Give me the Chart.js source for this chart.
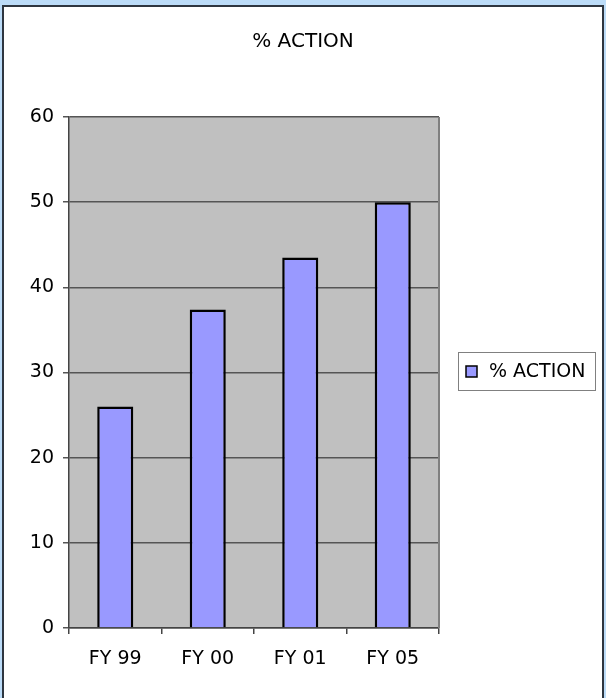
<!DOCTYPE html>
<html>
<head>
<meta charset="utf-8">
<script src="https://cdn.jsdelivr.net/npm/chart.js@4/dist/chart.umd.min.js"></script>
<style>
  html, body { margin: 0; padding: 0; }
  body { width: 606px; height: 698px; background: #BCDCF8; position: relative; overflow: hidden; }
  #frame { position: absolute; left: 2px; top: 5px; width: 598px; height: 700px; background: #fff; border: 2px solid #2E3640; }
  #wrap { position: absolute; left: 0; top: 0; width: 606px; height: 698px; }
</style>
</head>
<body>
<div id="frame"></div>
<div id="wrap"><canvas id="c" width="606" height="698"></canvas></div>
<script>
const categories = ['FY 99', 'FY 00', 'FY 01', 'FY 05'];
const seriesName = '% ACTION';
const chartTitle = '% ACTION';
const actionValues = [26, 37.4, 43.5, 50];
const yTicks = [0, 10, 20, 30, 40, 50, 60];

const FONT = 'DejaVu Sans';
const BAR_COLOR = '#9999FF';

const plotBg = {
  id: 'plotBg',
  beforeDraw(chart) {
    const { ctx, chartArea: a } = chart;
    ctx.save();
    ctx.fillStyle = '#C0C0C0';
    ctx.fillRect(a.left, a.top, a.right - a.left, a.bottom - a.top);
    ctx.restore();
  },
  afterDatasetsDraw(chart) {
    const { ctx, chartArea: a } = chart;
    ctx.save();
    ctx.strokeStyle = '#808080';
    ctx.lineWidth = 2;
    ctx.beginPath();
    ctx.moveTo(a.right, a.top);
    ctx.lineTo(a.right, a.bottom);
    ctx.stroke();
    ctx.restore();
  }
};

const titleAndLegend = {
  id: 'titleAndLegend',
  afterDraw(chart) {
    const { ctx } = chart;
    ctx.save();
    // title, centred across the whole chart
    ctx.fillStyle = '#000';
    ctx.font = '20px "' + FONT + '"';
    ctx.textAlign = 'center';
    ctx.textBaseline = 'middle';
    ctx.fillText(chartTitle, chart.width / 2, 42);
    // legend box
    ctx.strokeStyle = '#808080';
    ctx.lineWidth = 1;
    ctx.strokeRect(458.5, 352.5, 137, 38);
    ctx.fillStyle = BAR_COLOR;
    ctx.fillRect(466, 366, 11, 11);
    ctx.strokeStyle = '#000';
    ctx.lineWidth = 1.5;
    ctx.strokeRect(466, 366, 11, 11);
    ctx.fillStyle = '#000';
    ctx.font = '19px "' + FONT + '"';
    ctx.textAlign = 'left';
    ctx.fillText(chart.data.datasets[0].label, 489, 372);
    ctx.restore();
  }
};

new Chart(document.getElementById('c'), {
  type: 'bar',
  data: {
    labels: categories,
    datasets: [{
      label: seriesName,
      data: actionValues,
      backgroundColor: BAR_COLOR,
      borderColor: '#000',
      borderWidth: 2.5,
      barPercentage: 0.39,
      categoryPercentage: 1.0
    }]
  },
  options: {
    responsive: false,
    animation: false,
    devicePixelRatio: 1,
    layout: { padding: { left: 0, right: 167, top: 117, bottom: 0 } },
    plugins: {
      legend: { display: false },
      tooltip: { enabled: false },
      title: { display: false }
    },
    scales: {
      x: {
        afterFit(s) { s.height = 70; },
        grid: { drawOnChartArea: false, drawTicks: true, tickLength: 6, color: '#444', offset: true, lineWidth: 1.5 },
        border: { display: true, color: '#444', width: 1.5 },
        ticks: { color: '#000', font: { family: FONT, size: 19 }, padding: 14, maxRotation: 0 }
      },
      y: {
        min: 0,
        max: 60,
        afterFit(s) { s.width = 69; },
        afterBuildTicks(s) { s.ticks = yTicks.map(v => ({ value: v })); },
        grid: { color: '#555555', lineWidth: 1.5, tickLength: 6, drawTicks: true },
        border: { display: true, color: '#444', width: 1.5 },
        ticks: { color: '#000', font: { family: FONT, size: 19 }, padding: 9 }
      }
    }
  },
  plugins: [plotBg, titleAndLegend]
});
</script>
</body>
</html>
